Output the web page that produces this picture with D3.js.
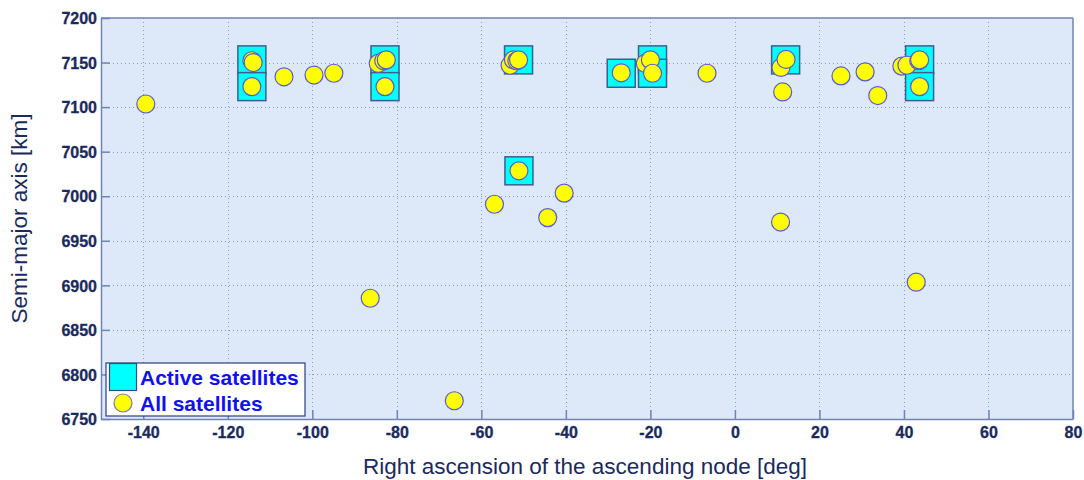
<!DOCTYPE html>
<html>
<head>
<meta charset="utf-8">
<script src="https://cdn.jsdelivr.net/npm/d3@7"></script>
<style>
  html, body { margin: 0; padding: 0; background: #ffffff; }
  svg { display: block; font-family: "Liberation Sans", Arial, sans-serif; }
  .axis text { font-weight: 700; font-size: 16px; fill: #1b2a5c; font-family: "Liberation Sans", Arial, sans-serif; }
</style>
</head>
<body>
<svg id="chart" width="1084" height="480"></svg>
<script>
// Right ascension of ascending node [deg] and semi-major axis [km]
const activeRaan = [-114.3, -114.3, -82.8, -82.8, -51.2, -51.1, -26.9, -19.5, -19.5, 12.0, 43.7, 43.7];
const activeSma  = [7153, 7123, 7153, 7123, 7153, 7028.5, 7138, 7153, 7138, 7153, 7153, 7123];

const allRaan = [-139.4, -114.3, -114.0, -114.3, -106.7, -99.6, -94.9,
                 -84.4, -83.1, -82.5, -82.8,
                 -53.2, -52.4, -51.6, -51.2, -51.1,
                 -56.9, -44.3, -40.4, -86.3, -66.4,
                 -26.9, -21.2, -20.0, -19.5, -6.6,
                 10.9, 12.1, 11.3, 10.8,
                 25.1, 30.8, 33.8, 39.5, 40.7, 43.5, 43.7, 43.7, 42.9];
const allSma  = [7103.5, 7152, 7150, 7123, 7134, 7136, 7138,
                 7149, 7152, 7153, 7123,
                 7147, 7153, 7152, 7153, 7028.5,
                 6991, 6976, 7003.5, 6885.5, 6770.5,
                 7138.5, 7149, 7153, 7138, 7138,
                 7144.5, 7153.5, 7117, 6971,
                 7135, 7139.5, 7113, 7146, 7147, 7152, 7153, 7123, 6903.5];

const xTicks = [-140, -120, -100, -80, -60, -40, -20, 0, 20, 40, 60, 80];
const yTicks = [6750, 6800, 6850, 6900, 6950, 7000, 7050, 7100, 7150, 7200];
const legendLabels = ["Active satellites", "All satellites"];

const svg = d3.select("#chart");
const plot = { left: 101, top: 18, right: 1073, bottom: 419 };

const x = d3.scaleLinear().domain([-150, 80]).range([plot.left, plot.right]);
const y = d3.scaleLinear().domain([6750, 7200]).range([plot.bottom, plot.top]);

const navy = "#1b2a5c";
const frame = "#7083b4";

// plot background
svg.append("rect")
  .attr("x", plot.left).attr("y", plot.top)
  .attr("width", plot.right - plot.left).attr("height", plot.bottom - plot.top)
  .attr("fill", "#dde9f8");

// dotted grid
const grid = svg.append("g").attr("stroke", "#8e9ab8").attr("stroke-width", 1)
  .attr("stroke-dasharray", "1,3");
grid.selectAll("line.vx").data(xTicks.filter(d => d > -150 && d < 80)).join("line")
  .attr("x1", d => Math.round(x(d)) + 0.5).attr("x2", d => Math.round(x(d)) + 0.5)
  .attr("y1", plot.top).attr("y2", plot.bottom);
grid.selectAll("line.hy").data(yTicks.filter(d => d > 6750 && d < 7200)).join("line")
  .attr("y1", d => Math.round(y(d)) + 0.5).attr("y2", d => Math.round(y(d)) + 0.5)
  .attr("x1", plot.left).attr("x2", plot.right);

// axes with inward ticks; plain hyphen for negatives
const fmt = d => String(d);
const xAxis = svg.append("g").attr("class", "axis").attr("transform", `translate(0,${plot.bottom})`)
  .call(d3.axisBottom(x).tickValues(xTicks).tickFormat(fmt).tickSize(-9).tickPadding(8).tickSizeOuter(0));
const yAxis = svg.append("g").attr("class", "axis").attr("transform", `translate(${plot.left},0)`)
  .call(d3.axisLeft(y).tickValues(yTicks).tickFormat(fmt).tickSize(-9).tickPadding(4).tickSizeOuter(0));
[xAxis, yAxis].forEach(a => {
  a.attr("font-weight", "bold").attr("font-size", 16).attr("font-family", null);
  a.select(".domain").attr("stroke", frame).attr("stroke-width", 1.5);
  a.selectAll(".tick line").attr("stroke", frame).attr("stroke-width", 1.5);
  a.selectAll(".tick text").attr("fill", navy).attr("stroke", navy).attr("stroke-width", 0.3);
});
yAxis.selectAll(".tick text").attr("dy", "0.36em");

// top and right frame
svg.append("line").attr("x1", plot.left).attr("x2", plot.right)
  .attr("y1", plot.top).attr("y2", plot.top).attr("stroke", frame).attr("stroke-width", 1.5);
svg.append("line").attr("x1", plot.right).attr("x2", plot.right)
  .attr("y1", plot.top).attr("y2", plot.bottom).attr("stroke", frame).attr("stroke-width", 1.5);

// axis titles
svg.append("text").attr("x", (plot.left + plot.right) / 2 - 2).attr("y", 474)
  .attr("text-anchor", "middle").attr("fill", navy).style("font-size", "22.5px")
  .text("Right ascension of the ascending node [deg]");
svg.append("text")
  .attr("transform", `translate(27,${(plot.top + plot.bottom) / 2}) rotate(-90)`)
  .attr("text-anchor", "middle").attr("fill", navy).style("font-size", "22.5px")
  .text("Semi-major axis [km]");

const sq = 28, r = 9;

// active satellites: cyan squares
svg.append("g").selectAll("rect").data(d3.range(activeRaan.length)).join("rect")
  .attr("x", i => x(activeRaan[i]) - sq / 2).attr("y", i => y(activeSma[i]) - sq / 2)
  .attr("width", sq).attr("height", sq)
  .attr("fill", "#00ffff").attr("stroke", "#3d5f8f").attr("stroke-width", 1.5);

// all satellites: yellow circles
svg.append("g").selectAll("circle").data(d3.range(allRaan.length)).join("circle")
  .attr("cx", i => x(allRaan[i])).attr("cy", i => y(allSma[i])).attr("r", r)
  .attr("fill", "#ffff00").attr("stroke", "#5a5ad0").attr("stroke-width", 1.2);

// legend
const lg = svg.append("g");
lg.append("rect").attr("x", 106).attr("y", 363).attr("width", 199).attr("height", 53)
  .attr("fill", "#ffffff").attr("stroke", "#2b3f80").attr("stroke-width", 1.2);
lg.append("rect").attr("x", 109.5).attr("y", 363.5).attr("width", 27).attr("height", 27)
  .attr("fill", "#00ffff").attr("stroke", "#2b4f80").attr("stroke-width", 1.2);
lg.append("circle").attr("cx", 123).attr("cy", 403).attr("r", r)
  .attr("fill", "#ffff00").attr("stroke", "#7a7aa8").attr("stroke-width", 1.2);
lg.selectAll("text").data(legendLabels).join("text")
  .attr("x", 140).attr("y", (d, i) => 385 + i * 26)
  .attr("fill", "#1010f0").style("font-size", "21px").style("font-weight", "bold")
  .text(d => d);
</script>
</body>
</html>
